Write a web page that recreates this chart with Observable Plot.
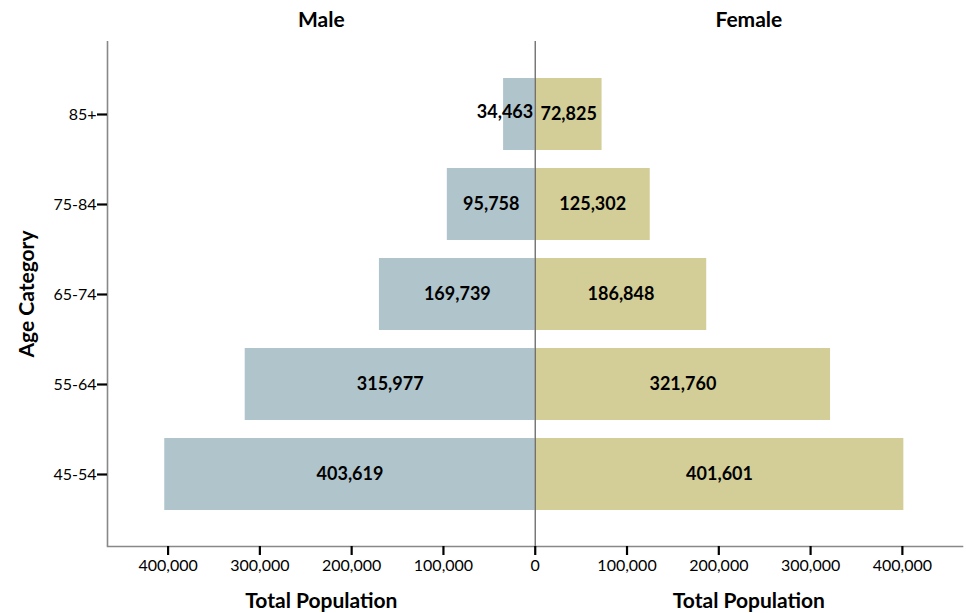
<!DOCTYPE html>
<html>
<head>
<meta charset="utf-8">
<script src="https://cdn.jsdelivr.net/npm/d3@7"></script>
<script src="https://cdn.jsdelivr.net/npm/@observablehq/plot@0.6"></script>
<style>
  html, body { margin: 0; padding: 0; background: #fff; }
  #chart svg { display: block; }
</style>
</head>
<body>
<div id="chart"></div>
<script>
const ages = ["85+", "75-84", "65-74", "55-64", "45-54"];
const male = [34463, 95758, 169739, 315977, 403619];
const female = [72825, 125302, 186848, 321760, 401601];
const xTicks = [-400000, -300000, -200000, -100000, 0, 100000, 200000, 300000, 400000];
const panelTitles = ["Male", "Female"];
const axisTitle = "Total Population";
const yTitle = "Age Category";

const maleColor = "#b0c4cc";
const femaleColor = "#d3ce98";
const font = "Lato, 'Open Sans', sans-serif";

const rows = ages.map((a, i) => ({age: a, male: male[i], female: female[i]}));
const xDomain = [-466000, 465500];
const fmt = d3.format(",");

const panels = [
  {title: panelTitles[0], x: (xDomain[0] + 0) / 2},
  {title: panelTitles[1], x: (xDomain[1] + 0) / 2}
];

const chart = Plot.plot({
  width: 966,
  height: 613,
  marginLeft: 107,
  marginRight: 4,
  marginTop: 41,
  marginBottom: 67,
  style: {fontFamily: font, background: "#fff"},
  x: {domain: xDomain},
  y: {domain: ages, paddingInner: 0.2, paddingOuter: 0.39},
  marks: [
    Plot.barX(rows, {y: "age", x1: 0, x2: d => -d.male, fill: maleColor}),
    Plot.barX(rows, {y: "age", x1: 0, x2: d => d.female, fill: femaleColor}),
    // value labels
    Plot.text(rows.filter(d => d.male >= 60000), {y: "age", x: d => -d.male / 2, text: d => fmt(d.male), fontSize: 18, fontWeight: "bold", fill: "#000"}),
    Plot.text(rows.filter(d => d.male < 60000), {y: "age", x: 0, text: d => fmt(d.male), textAnchor: "end", dx: -2, dy: -2, fontSize: 18, fontWeight: "bold", fill: "#000"}),
    Plot.text(rows, {y: "age", x: d => d.female / 2, text: d => fmt(d.female), fontSize: 18, fontWeight: "bold", fill: "#000"}),
    // center line
    Plot.ruleX([0], {stroke: "#666", strokeWidth: 1.3}),
    // axis lines
    Plot.ruleX([xDomain[0]], {stroke: "#888", strokeWidth: 1.6}),
    Plot.frame({anchor: "bottom", stroke: "#888", strokeWidth: 1.6}),
    // axes
    Plot.axisX({ticks: xTicks, tickFormat: d => fmt(Math.abs(d)), tickSize: 9, tickPadding: 4, fontSize: 16, stroke: "#000", strokeWidth: 2.2, fill: "#000", label: null}),
    Plot.axisY({tickSize: 10, tickPadding: 1, fontSize: 16, stroke: "#000", strokeWidth: 2.2, fill: "#000", label: null}),
    // titles
    Plot.text(panels, {x: "x", text: "title", frameAnchor: "top", dy: -21, lineAnchor: "middle", fontSize: 21, fontWeight: "bold", fill: "#000"}),
    Plot.text(panels, {x: "x", text: () => axisTitle, frameAnchor: "bottom", dy: 55, lineAnchor: "middle", fontSize: 21, fontWeight: "bold", fill: "#000"}),
    Plot.text([yTitle], {text: d => d, frameAnchor: "left", textAnchor: "middle", dx: -80, rotate: -90, fontSize: 21, fontWeight: "bold", fill: "#000"})
  ]
});
document.getElementById("chart").appendChild(chart);
</script>
</body>
</html>
